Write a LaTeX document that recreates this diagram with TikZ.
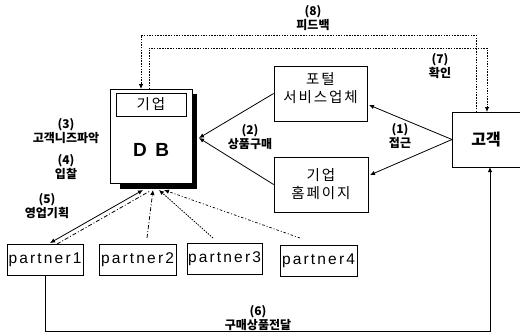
\documentclass[tikz,border=0pt]{standalone}
\usepackage{fontspec}
\setmainfont{Liberation Sans}
\newfontfamily\kr{Noto Sans CJK KR}
\newfontfamily\krsp{Noto Sans CJK KR}[LetterSpace=13]
\newfontfamily\ptf{Liberation Sans}[LetterSpace=14]
\usetikzlibrary{arrows.meta,calc}
\tikzset{
  box/.style={draw, line width=0.8pt, fill=white, inner sep=0pt},
  pbox/.style={box, minimum height=31pt, font=\ptf\fontsize{15.5}{17}\selectfont},
  btxt/.style={font=\krsp\fontsize{14.5}{18}\selectfont, align=center, inner sep=0pt},
  lbl/.style={font=\kr\bfseries\fontsize{12}{14}\selectfont, align=center, inner sep=0pt},
  arrowend/.style={-{Latex[length=5pt,width=4.5pt]}},
  dotln/.style={line width=0.8pt, dash pattern=on 1.5pt off 1.2pt},
  dashdot/.style={line width=0.8pt, dash pattern=on 4pt off 2pt on 1pt off 2pt},
  dashdotb/.style={line width=0.7pt, dash pattern=on 2.5pt off 2pt on 1pt off 2pt},
  conn/.style={line width=0.8pt}
}
\begin{document}
\begin{tikzpicture}[x=1pt,y=-1pt]
\useasboundingbox (0,0) rectangle (520,335);
% DB box with shadow
\fill (120,94) rectangle (197,189);
\node[box, minimum width=82pt, minimum height=94pt] (db) at (151,136) {};
\node[box, minimum width=70pt, minimum height=23pt, font=\krsp\fontsize{14.5}{16}\selectfont] (gi) at (151,104.5) {기업};
\node[font=\bfseries\fontsize{19}{22}\selectfont, inner sep=0pt] (dbt) at (151,150) {D\hspace{0.45em}B};
% right boxes
\node[box, minimum width=93pt, minimum height=55pt] (portal) at (320.5,93.5) {};
\node[btxt] (portalt) at (320.5,88) {포털\\서비스업체};
\node[box, minimum width=94pt, minimum height=55pt] (hp) at (321,184.5) {};
\node[btxt] (hpt) at (321,184) {기업\\홈페이지};
\node[box, minimum width=72pt, minimum height=55pt, anchor=west] (gk) at (452,139.5) {};
\node[font=\kr\bfseries\fontsize{16}{18}\selectfont, inner sep=0pt] (gkt) at (486,140) {고객};
% partners
\node[pbox, minimum width=76pt] (p1) at (45,259.5) {partner1};
\node[pbox, minimum width=77pt] (p2) at (137.5,259.5) {partner2};
\node[pbox, minimum width=75pt] (p3) at (224.5,259) {partner3};
\node[pbox, minimum width=77pt] (p4) at (318.5,260.5) {partner4};
% (2)
\coordinate (dbR) at (199,138);
\draw[conn, arrowend] (portal.west) -- (dbR);
\draw[conn, arrowend] (hp.west) -- (dbR);
% (1)
\coordinate (pin) at (369,105);
\coordinate (hin) at (370,175);
\draw[conn, arrowend] (gk.west) -- (pin);
\draw[conn, arrowend] (gk.west) -- (hin);
% (8) and (7)
\coordinate (g8) at (476,112);
\coordinate (d8) at (141,89);
\draw[dotln, arrowend] (g8) -- ++(0,-77) -| (d8);
\coordinate (d7) at (149,89);
\coordinate (g7) at (487,112);
\draw[dotln, arrowend] (d7) -- ++(0,-41) -| (g7);
% (6)
\coordinate (g6) at (490,167);
\draw[conn, arrowend] (p1.south) -- ++(0,56) -| (g6);
% partners to DB
\coordinate (a1) at (143,190);
\coordinate (b1) at (50,243);
\draw[conn, {Latex[length=5pt,width=4.5pt]}-{Latex[length=5pt,width=4.5pt]}] (b1) -- (a1);
\coordinate (a1d) at (150,191);
\coordinate (b1d) at (57,244);
\draw[dashdot] (b1d) -- (a1d);
\coordinate (a2) at (153,190);
\coordinate (b2) at (147,238);
\draw[dashdot, arrowend] (b2) -- (a2);
\coordinate (a3) at (159,190);
\coordinate (b3) at (213,238);
\draw[dotln, arrowend] (b3) -- (a3);
\coordinate (a4) at (164,190);
\coordinate (b4) at (300,238);
\draw[dashdotb, arrowend] (b4) -- (a4);
% labels
\node[lbl] (l8) at (313,18.5) {(8)\\피드백};
\node[lbl] (l7) at (440,66) {(7)\\확인};
\node[lbl] (l2) at (250,137.5) {(2)\\상품구매};
\node[lbl] (l1) at (400,135.5) {(1)\\접근};
\node[lbl] (l3) at (66,131) {(3)\\고객니즈파악};
\node[lbl] (l4) at (66,167) {(4)\\입찰};
\node[lbl] (l5) at (47,206.5) {(5)\\영업기획};
\node[lbl] (l6) at (258,318) {(6)\\구매상품전달};
\end{tikzpicture}
\end{document}
